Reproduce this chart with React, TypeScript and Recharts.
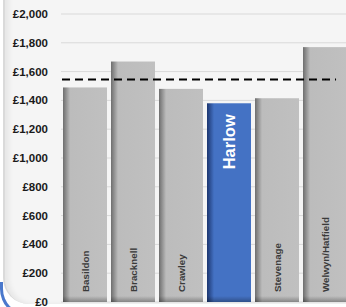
import React from "react"
import {
    BarChart,
    Bar,
    XAxis,
    YAxis,
    CartesianGrid,
    ReferenceLine,
    LabelList
} from "recharts"

const towns = ["Basildon", "Bracknell", "Crawley", "Harlow", "Stevenage", "Welwyn/Hatfield"]
const values = [1490, 1670, 1480, 1380, 1415, 1770]
const highlightTown = "Harlow"
const averageValue = 1545
const yTicks = [0, 200, 400, 600, 800, 1000, 1200, 1400, 1600, 1800, 2000]

const chartData = towns.map((name, i) => ({ name, value: values[i] }))

const FONT = '"Liberation Sans", Arial, sans-serif'

function BarShape(props: any) {
    const { x, y, width, height, payload } = props
    const hl = payload && payload.name === highlightTown
    const shade = Math.min(6, height)
    return (
        <g>
            <rect x={x} y={y} width={width} height={height} fill={hl ? "url(#blueGrad)" : "url(#grayGrad)"} />
            <rect x={x} y={y + height - shade} width={width} height={shade} fill="url(#bottomShade)" />
        </g>
    )
}

function TownLabel(props: any) {
    const { x, y, width, height, value } = props
    const cx = x + width / 2
    if (value === highlightTown) {
        const ty = y + 11
        return (
            <text
                x={cx}
                y={ty}
                transform={`rotate(-90, ${cx}, ${ty})`}
                textAnchor="end"
                dominantBaseline="central"
                fill="#ffffff"
                fontSize={16.5}
                fontWeight="bold"
                fontFamily={FONT}
            >
                {value}
            </text>
        )
    }
    const by = y + height - 10
    return (
        <text
            x={cx}
            y={by}
            transform={`rotate(-90, ${cx}, ${by})`}
            textAnchor="start"
            dominantBaseline="central"
            fill="#3a3a3a"
            fontSize={9.8}
            fontWeight={600}
            fontFamily={FONT}
        >
            {value}
        </text>
    )
}

// dashed average line stops a little short of the plot's right edge
function AvgLine(props: any) {
    const { x1, x2, y1 } = props
    const end = x1 + (x2 - x1) * 0.955
    return (
        <line x1={x1 + 1} y1={y1} x2={end} y2={y1} stroke="#000000" strokeWidth={2} strokeDasharray="8 5" />
    )
}

export default function App() {
    return (
        <div style={{ position: "absolute", left: 0, top: 0, width: 346, height: 307, overflow: "hidden", background: "#ffffff" }}>
            {/* blue corner arc behind frame */}
            <div style={{
                position: "absolute", left: 0, top: 282, width: 50, height: 32,
                borderLeft: "3px solid #4a78cc", borderBottom: "3px solid #4a78cc",
                borderBottomLeftRadius: 28
            }} />
            {/* chart frame */}
            <div style={{
                position: "absolute", left: 3, top: -20, width: 400, height: 324,
                background: "#f5f5f5",
                borderLeft: "2px solid #dadada",
                borderBottomLeftRadius: 26,
                boxShadow: "inset 4px 0 5px rgba(0,0,0,0.06)"
            }} />
            <div style={{ position: "absolute", left: 0, top: 0 }}>
                <BarChart
                    width={349}
                    height={307}
                    data={chartData}
                    margin={{ top: 14, right: 0, left: 0, bottom: 5 }}
                    barCategoryGap={2}
                >
                    <defs>
                        <linearGradient id="grayGrad" x1="0" y1="0" x2="1" y2="0">
                            <stop offset="0" stopColor="#6e6e6e" />
                            <stop offset="0.16" stopColor="#bcbcbc" />
                            <stop offset="1" stopColor="#c0c0c0" />
                        </linearGradient>
                        <linearGradient id="blueGrad" x1="0" y1="0" x2="1" y2="0">
                            <stop offset="0" stopColor="#1c3670" />
                            <stop offset="0.16" stopColor="#4472c4" />
                            <stop offset="1" stopColor="#4472c4" />
                        </linearGradient>
                        <linearGradient id="bottomShade" x1="0" y1="0" x2="0" y2="1">
                            <stop offset="0" stopColor="#000" stopOpacity={0} />
                            <stop offset="1" stopColor="#000" stopOpacity={0.3} />
                        </linearGradient>
                    </defs>
                    <CartesianGrid vertical={false} stroke="#d9d9d9" />
                    <XAxis dataKey="name" hide />
                    <YAxis
                        width={61}
                        domain={[0, 2000]}
                        ticks={yTicks}
                        interval={0}
                        axisLine={false}
                        tickLine={false}
                        tickMargin={7}
                        tick={{ fill: "#1a1a1a", fontSize: 11.5, fontWeight: "bold", fontFamily: FONT }}
                        tickFormatter={(v) => `£${Number(v).toLocaleString("en-GB")}`}
                    />
                    <Bar dataKey="value" shape={<BarShape />} isAnimationActive={false}>
                        <LabelList dataKey="name" content={<TownLabel />} />
                    </Bar>
                    <ReferenceLine y={averageValue} shape={<AvgLine />} />
                </BarChart>
            </div>
        </div>
    )
}
